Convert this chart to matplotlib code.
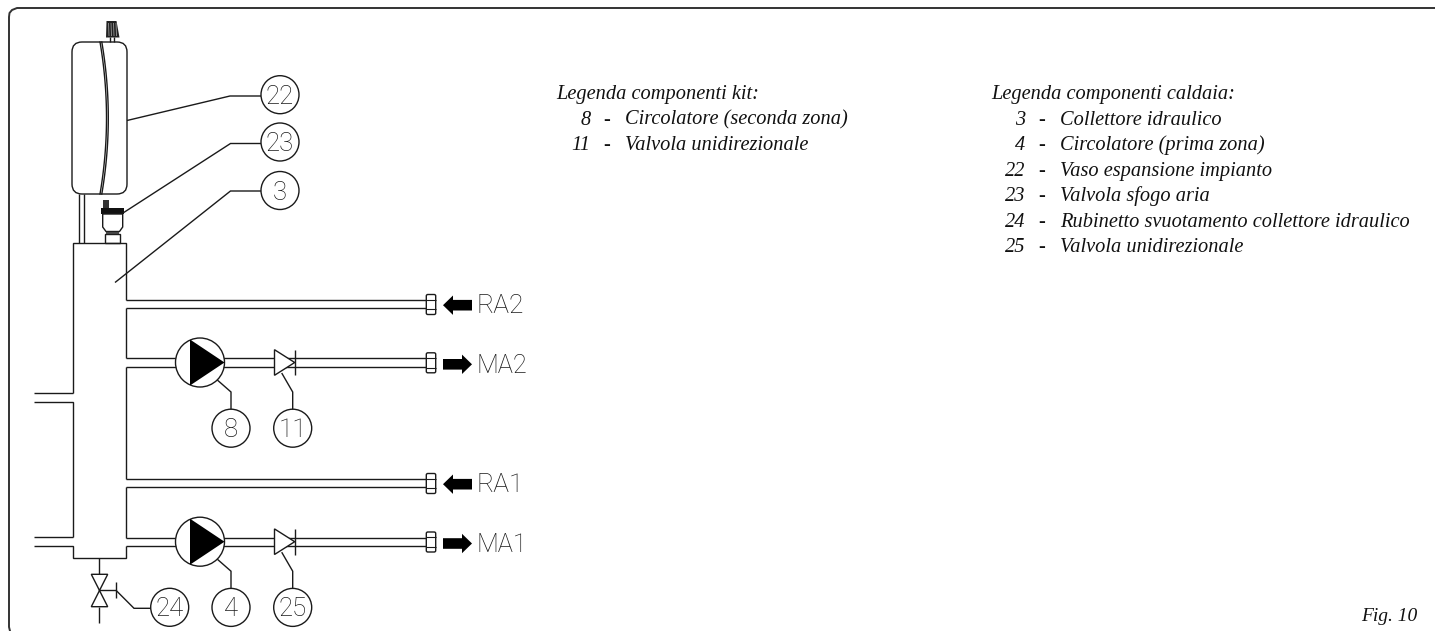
import matplotlib
matplotlib.use("Agg")
import numpy as np
from matplotlib import pyplot as plt
from matplotlib.patches import Circle, FancyBboxPatch, Polygon, Rectangle

# testi legenda
kit_title = "Legenda componenti kit:"
kit_numbers = ["8", "11"]
kit_labels = ["Circolatore (seconda zona)", "Valvola unidirezionale"]

boiler_title = "Legenda componenti caldaia:"
boiler_numbers = ["3", "4", "22", "23", "24", "25"]
boiler_labels = ["Collettore idraulico", "Circolatore (prima zona)",
                 "Vaso espansione impianto", "Valvola sfogo aria",
                 "Rubinetto svuotamento collettore idraulico",
                 "Valvola unidirezionale"]
fig_label = "Fig. 10"

return_names = ["RA2", "RA1"]
flow_names = ["MA2", "MA1"]
flow_callouts = [("8", "11"), ("4", "25")]
top_callouts = ["22", "23", "3"]
drain_callout = "24"

INK = "#1a1a1a"
LW = 1.0
SERIF = "Liberation Serif"
THIN = "Roboto"

fig = plt.figure(figsize=(14.35, 6.31), dpi=100)
ax = fig.add_axes([0, 0, 1, 1])
ax.set_xlim(0, 1435)
ax.set_ylim(631, 0)
ax.axis("off")


def line(xs, ys, lw=LW, color=INK, zorder=2):
    ax.plot(xs, ys, color=color, lw=lw, solid_capstyle="butt",
            solid_joinstyle="miter", zorder=zorder)


def bubble(x, y, txt):
    ax.add_patch(Circle((x, y), 19, fc="white", ec=INK, lw=LW, zorder=3))
    ax.text(x, y + 9, txt, ha="center", va="baseline", fontsize=18.5,
            family=THIN, fontweight="light", color=INK, zorder=4)


def fitting(y):
    ax.add_patch(FancyBboxPatch((426.3, y - 9.7), 9.4, 20,
                                boxstyle="round,pad=0,rounding_size=1.5",
                                fc="white", ec=INK, lw=LW, zorder=3))
    line([426.3, 435.7], [y - 4.5, y - 4.5], lw=0.8, zorder=4)
    line([426.3, 435.7], [y + 5, y + 5], lw=0.8, zorder=4)


def arrow_left(y, name):
    ax.add_patch(Polygon([(443, y), (453, y - 9.7), (453, y - 5.3),
                          (472, y - 5.3), (472, y + 5.3), (453, y + 5.3),
                          (453, y + 9.7)], fc="black", ec="none"))
    ax.text(476.5, y + 8, name, ha="left", va="baseline", fontsize=19,
            family=THIN, fontweight="light", color=INK)


def arrow_right(y, name):
    ax.add_patch(Polygon([(443, y - 5.3), (462, y - 5.3), (462, y - 9.7),
                          (472, y), (462, y + 9.7), (462, y + 5.3),
                          (443, y + 5.3)], fc="black", ec="none"))
    ax.text(476.5, y + 8.4, name, ha="left", va="baseline", fontsize=18.3,
            family=THIN, fontweight="light", color=INK)


def pump_branch(y, names, name):
    # y = asse del tubo
    top = y - 4.2
    bot = y + 4.2
    line([126, 426], [top, top])
    line([126, 426], [bot, bot])
    ax.add_patch(Circle((200, y), 24.5, fc="white", ec=INK, lw=LW, zorder=3))
    ax.add_patch(Polygon([(190, y - 23), (224.5, y), (190, y + 23)],
                         fc="black", ec="none", zorder=4))
    # valvola di non ritorno
    ax.add_patch(Polygon([(274.5, y - 12.8), (294.7, y), (274.5, y + 12.8)],
                         fc="white", ec=INK, lw=LW, zorder=3, joinstyle="miter"))
    line([294.7, 294.7], [y - 12.8, y + 12.8], zorder=4)
    fitting(y)
    arrow_right(y + 1.8, name)
    # richiami
    line([217.3, 231, 231], [y + 17.5, y + 29.5, y + 47.5])
    line([281.7, 292.7, 292.7], [y + 10.5, y + 29.5, y + 47.5])
    bubble(231, y + 65.7, names[0])
    bubble(292.7, y + 65.7, names[1])


def return_branch(y, name):
    line([126, 426], [y - 4.2, y - 4.2])
    line([126, 426], [y + 4.2, y + 4.2])
    fitting(y)
    arrow_left(y + 1, name)


# cornice
ax.plot([10, 9, 9, 9.5, 12, 17, 1435], [631, 627, 17, 13, 10, 8, 8],
        color="#333333", lw=1.4, solid_joinstyle="round")

# vaso espansione
ax.add_patch(FancyBboxPatch((72, 42), 55, 152,
                            boxstyle="round,pad=0,rounding_size=10",
                            fc="white", ec=INK, lw=LW))
curve_t = np.linspace(-1, 1, 40)
ax.plot(106.5 - 6.5 * curve_t ** 2, 118 + 76 * curve_t, color=INK, lw=LW)
ax.plot(108.3 - 6.5 * curve_t ** 2, 118 + 76 * curve_t, color=INK, lw=LW)

# manopola sopra il vaso
ax.add_patch(Polygon([(106.5, 21), (116.5, 21), (119.5, 37.5), (106, 37.5)],
                     fc="#222222", ec="none"))
for kx in [108.5, 111, 113.5, 116]:
    line([kx, kx + 0.5], [23, 36], lw=0.6, color="#999999")
line([109.5, 109.5], [37, 42])
line([113.8, 113.8], [37, 42])

# tubi tra vaso e collettore
line([78.5, 78.5], [194, 243])
line([83.5, 83.5], [194, 243])

# valvola sfogo aria
ax.add_patch(Rectangle((102.7, 200), 6.6, 8, fc="#333333", ec="none"))
ax.add_patch(Rectangle((101, 208), 23.3, 6, fc="#111111", ec="none"))
ax.add_patch(Polygon([(102.7, 214), (122.7, 214), (122.7, 227), (119.5, 231.5),
                      (106, 231.5), (102.7, 227)], fc="white", ec=INK, lw=LW))
ax.add_patch(Rectangle((104.5, 234), 15.5, 9, fc="white", ec=INK, lw=LW))
line([106, 119], [232.7, 232.7], lw=1.6, color="#444444")

# collettore
line([73, 73, 126, 126], [393, 243, 243, 300])
line([126, 126], [308.4, 358.2])
line([126, 126], [366.8, 479])
line([126, 126], [487.4, 537.5])
line([34, 73], [393, 393])
line([34, 73, 73], [401.5, 401.5, 537])
line([34, 73], [537, 537])
line([34, 73, 73, 126, 126], [545.5, 545.5, 558, 558, 545.8])

# rami
return_branch(304.2, return_names[0])
pump_branch(362.5, flow_callouts[0], flow_names[0])
return_branch(483.2, return_names[1])
pump_branch(541.7, flow_callouts[1], flow_names[1])

# rubinetto di svuotamento
line([99, 99], [558, 574.3])
ax.add_patch(Polygon([(91.3, 574.3), (107.7, 574.3), (91.3, 606.7),
                      (107.7, 606.7)], fc="white", ec=INK, lw=LW,
                     closed=True))
line([99, 99], [606.7, 622.7])
line([99, 116], [590.3, 590.3])
line([116, 116], [582, 597.5])
line([116, 134, 151], [590.3, 608.3, 608.3])
bubble(169.7, 607.3, drain_callout)

# richiami in alto
line([127, 230, 261], [120.5, 96, 96])
line([123, 230.5, 261], [213, 143.5, 143.5])
line([115, 230.5, 261], [282.5, 191, 191])
for yc, txt in zip([94.7, 142, 190.5], top_callouts):
    bubble(280, yc, txt)


def legend(title, numbers, labels, x_title, x_num, x_dash, x_txt):
    y0 = 99.5
    step = 25.45
    style = dict(family=SERIF, style="italic", fontsize=14.65, color="#111111",
                 va="baseline")
    ax.text(x_title, y0, title, ha="left", **style)
    for i, (n, lab) in enumerate(zip(numbers, labels)):
        y = y0 + (i + 1) * step
        ax.text(x_num, y, n, ha="right", **style)
        ax.text(x_dash, y, "-", ha="left", **style)
        ax.text(x_txt, y, lab, ha="left", **style)


legend(kit_title, kit_numbers, kit_labels, 556.5, 590.5, 603, 625)
legend(boiler_title, boiler_numbers, boiler_labels, 991.5, 1025, 1038, 1060)

ax.text(1417, 621, fig_label, ha="right", va="baseline", family=SERIF,
        style="italic", fontsize=14, color="#111111")

fig.savefig("out.png", dpi=100)
